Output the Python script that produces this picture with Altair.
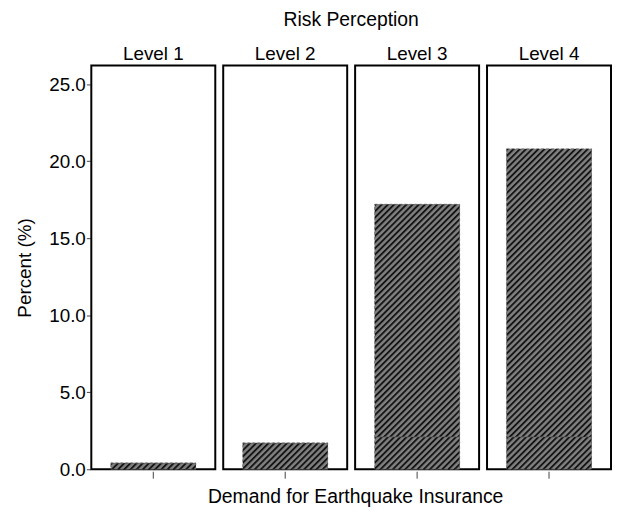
import base64
import altair as alt
import pandas as pd

levels = ["Level 1", "Level 2", "Level 3", "Level 4"]
lower_pct = [0.4, 1.7, 2.1, 2.1]
upper_pct = [0.0, 0.0, 15.1, 18.7]
y_ticks = [0, 5, 10, 15, 20, 25]

rows = []
for lv, lo, up in zip(levels, lower_pct, upper_pct):
    rows.append({"level": lv, "demand": "Yes", "seg": 1, "value": lo})
    rows.append({"level": lv, "demand": "Yes", "seg": 2, "value": up})
df = pd.DataFrame(rows)

hatch_svg = (
    "<svg xmlns='http://www.w3.org/2000/svg'>"
    "<defs><pattern id='h' width='4.4' height='10' patternUnits='userSpaceOnUse' "
    "patternTransform='rotate(45)'>"
    "<rect width='4.4' height='10' fill='#808080'/>"
    "<rect width='1.9' height='10' fill='#151515'/>"
    "</pattern></defs>"
    "<rect x='0' y='0' width='3000' height='3000' fill='url(#h)'/></svg>"
)
hatch_url = "data:image/svg+xml;base64," + base64.b64encode(hatch_svg.encode()).decode()

FONT = "Liberation Sans"

x_enc = alt.X(
    "demand:N",
    scale=alt.Scale(paddingInner=0.3, paddingOuter=0.16),
    axis=alt.Axis(labels=False, title=None, domain=False, ticks=True,
                  tickSize=7, tickColor="#444", tickWidth=1),
)
y_enc = alt.Y(
    "y1:Q",
    scale=alt.Scale(domain=[0, 26.2], nice=False, zero=True),
    axis=alt.Axis(values=y_ticks, format=".1f", grid=False, domain=False,
                  tickSize=4, tickColor="#444", labelFontSize=19,
                  labelColor="#000", title="Percent (%)", titleFontSize=19,
                  titleFontWeight="normal", titleColor="#000",
                  titlePadding=14, labelPadding=1),
)

base = alt.Chart().transform_stack(
    stack="value", groupby=["level"], as_=["y0", "y1"],
    sort=[alt.SortField("seg")],
)

fill_bar = base.mark_bar(color="#6a6a6a").encode(x=x_enc, y=y_enc, y2="y0:Q")
img = base.mark_image(aspect=False).encode(
    x=x_enc, y=y_enc, y2="y0:Q", url=alt.value(hatch_url)
)
outline = base.mark_bar(fillOpacity=0, stroke="#5a5a5a", strokeWidth=0.6,
                        strokeDash=[3, 2]).encode(x=x_enc, y=y_enc, y2="y0:Q")

layered = alt.layer(fill_bar, img, outline).properties(width=125, height=407)

chart = layered.facet(
    data=df,
    column=alt.Column(
        "level:N",
        sort=levels,
        header=alt.Header(title="Risk Perception", titleFontSize=19.5,
                          titleFontWeight="normal", titleColor="#000",
                          labelFontSize=19, labelColor="#000",
                          titlePadding=4, labelPadding=1),
    ),
    spacing=6,
).properties(
    title=alt.TitleParams("Demand for Earthquake Insurance", orient="bottom",
                          fontSize=19.5, fontWeight="normal", anchor="middle",
                          frame="bounds", color="#000", offset=9, dx=42),
    padding={"left": 8, "top": 0, "right": 0, "bottom": 0},
).configure(font=FONT).configure_view(stroke="#000", strokeWidth=2)

chart.save("out.html", embed_options={"renderer": "svg", "actions": False})
